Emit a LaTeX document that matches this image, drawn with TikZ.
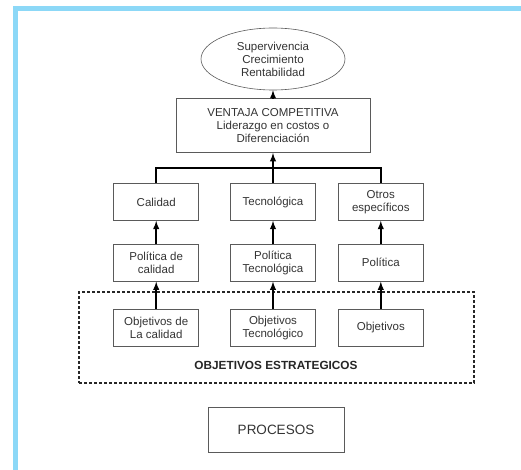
\documentclass[tikz,border=0pt]{standalone}
\usepackage{fontspec}
\setmainfont{Liberation Sans}
\usetikzlibrary{positioning,shapes.geometric}
\definecolor{marco}{RGB}{140,216,247}
\definecolor{borde}{RGB}{90,90,90}
\tikzset{
  texto/.style={align=center, text=black!80, font=\fontsize{11.5}{13}\selectfont},
  caja/.style={texto, draw=borde, line width=0.8pt, inner sep=2pt, minimum width=85pt, minimum height=37pt},
  flecha/.style={-latex, line width=1.8pt},
  linea/.style={line width=1.8pt},
}

\begin{document}
\begin{tikzpicture}[x=1pt, y=1pt]
   \useasboundingbox (0,0) rectangle (521,-470);
   % marco azul
   \fill[marco] (13,-6) rectangle (521,-11);
   \fill[marco] (13,-6) rectangle (18,-470);

   \node[texto, ellipse, draw=borde, line width=0.6pt, minimum width=144pt, minimum height=62pt, inner sep=0pt] (meta) at (273,-59) {Supervivencia\\Crecimiento\\Rentabilidad};
   \node[caja, minimum width=194pt, minimum height=54pt, below=8pt of meta] (ventaja) {VENTAJA COMPETITIVA\\Liderazgo en costos o\\Diferenciación};

   \node[caja, below=30pt of ventaja] (tecnologica) {Tecnológica};
   \node[caja, left=31pt of tecnologica] (calidad) {Calidad};
   \node[caja, right=22pt of tecnologica] (otros) {Otros\\específicos};
   \coordinate[above=15pt of tecnologica] (barra);

   \node[caja, below=23pt of calidad] (polcalidad) {Política de\\calidad};
   \node[caja, below=23pt of tecnologica] (poltecnologica) {Política\\Tecnológica};
   \node[caja, below=23pt of otros] (politica) {Política};

   \node[caja, below=27pt of polcalidad] (objcalidad) {Objetivos de\\La calidad};
   \node[caja, below=27pt of poltecnologica] (objtecnologico) {Objetivos\\Tecnológico};
   \node[caja, below=27pt of politica] (objetivos) {Objetivos};

   % grupo de objetivos
   \node[draw=black!85, densely dashed, line width=1.1pt, minimum width=395pt, minimum height=91pt, inner sep=0pt] (estrategicos) at (276.5,-337.5) {};
   \node[text=black!85, font=\fontsize{11.8}{13}\selectfont\bfseries] (titulo) at (276,-365) {OBJETIVOS ESTRATEGICOS};

   \node[caja, minimum width=136pt, minimum height=45pt, font=\fontsize{13.5}{15}\selectfont] (procesos) at (276,-429.5) {PROCESOS};

   \draw[flecha] (ventaja) -- (meta);
   \draw[linea] (calidad) |- (barra) -| (otros);
   \draw[flecha] (tecnologica) -- (ventaja);
   \draw[flecha] (polcalidad) -- (calidad);
   \draw[flecha] (poltecnologica) -- (tecnologica);
   \draw[flecha] (politica) -- (otros);
   \draw[flecha] (objcalidad) -- (polcalidad);
   \draw[flecha] (objtecnologico) -- (poltecnologica);
   \draw[flecha] (objetivos) -- (politica);
\end{tikzpicture}
\end{document}
